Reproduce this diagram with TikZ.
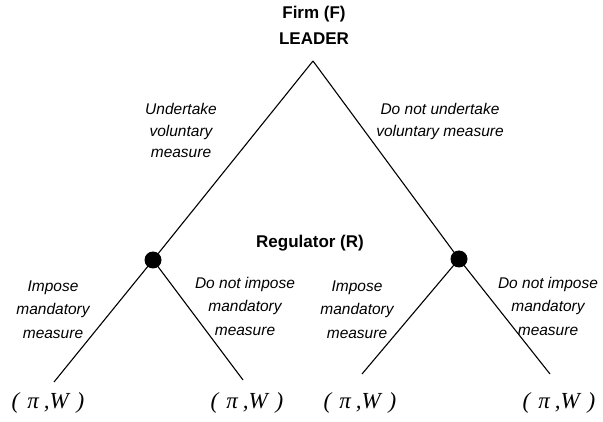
\documentclass[tikz,border=0pt]{standalone}
\usepackage{fontspec}
\setmainfont{Liberation Sans}
\newfontfamily\serifpay{Liberation Serif}
\begin{document}
\begin{tikzpicture}[x=1pt,y=-1pt,
  lbl/.style={font=\fontsize{15.5}{18}\selectfont\itshape, inner sep=0pt, anchor=base},
  ttl/.style={font=\fontsize{17}{20}\selectfont\bfseries, inner sep=0pt, anchor=base},
  pay/.style={font=\fontsize{23}{26}\selectfont\serifpay\itshape, inner sep=0pt, anchor=base},
  branch/.style={line width=1.1pt},
  dotnode/.style={circle, fill=black, minimum size=17pt, inner sep=0pt}]
\useasboundingbox (0,0) rectangle (603,422);

% titles
\node[ttl] (firm) at (314,19) {Firm (F)};
\node[ttl] (leader) at (314,45) {LEADER};
\node[ttl] (reg) at (310,248) {Regulator (R)};

% tree points
\coordinate (apex) at (313,61);
\node[dotnode] (dL) at (153,260) {};
\node[dotnode] (dR) at (459,259) {};
\coordinate (LL) at (54,382);
\coordinate (LR) at (243,380);
\coordinate (RL) at (362,374);
\coordinate (RR) at (550,374);

\draw[branch] (apex) -- (dL.center) -- (LL);
\draw[branch] (dL.center) -- (LR);
\draw[branch] (apex) -- (dR.center) -- (RR);
\draw[branch] (dR.center) -- (RL);

% first-level labels
\node[lbl] (u1) at (181,115) {Undertake};
\node[lbl] (u2) at (181,137) {voluntary};
\node[lbl] (u3) at (181,158) {measure};
\node[lbl] (n1) at (440,115) {Do not undertake};
\node[lbl] (n2) at (440,137) {voluntary measure};

% second-level labels
\node[lbl] (a1) at (53,292) {Impose};
\node[lbl] (a2) at (53,315) {mandatory};
\node[lbl] (a3) at (53,338) {measure};
\node[lbl] (b1) at (245,289) {Do not impose};
\node[lbl] (b2) at (245,312) {mandatory};
\node[lbl] (b3) at (245,335) {measure};
\node[lbl] (c1) at (357,292) {Impose};
\node[lbl] (c2) at (357,315) {mandatory};
\node[lbl] (c3) at (357,338) {measure};
\node[lbl] (d1) at (548,289) {Do not impose};
\node[lbl] (d2) at (548,312) {mandatory};
\node[lbl] (d3) at (548,335) {measure};

% payoffs
\node[pay] (p1) at (48,408) {(\hspace{8pt}π\hspace{5pt},W\hspace{8pt})};
\node[pay] (p2) at (247,408) {(\hspace{8pt}π\hspace{5pt},W\hspace{8pt})};
\node[pay] (p3) at (360,408) {(\hspace{8pt}π\hspace{5pt},W\hspace{8pt})};
\node[pay] (p4) at (559,408) {(\hspace{8pt}π\hspace{5pt},W\hspace{8pt})};
\end{tikzpicture}
\end{document}
